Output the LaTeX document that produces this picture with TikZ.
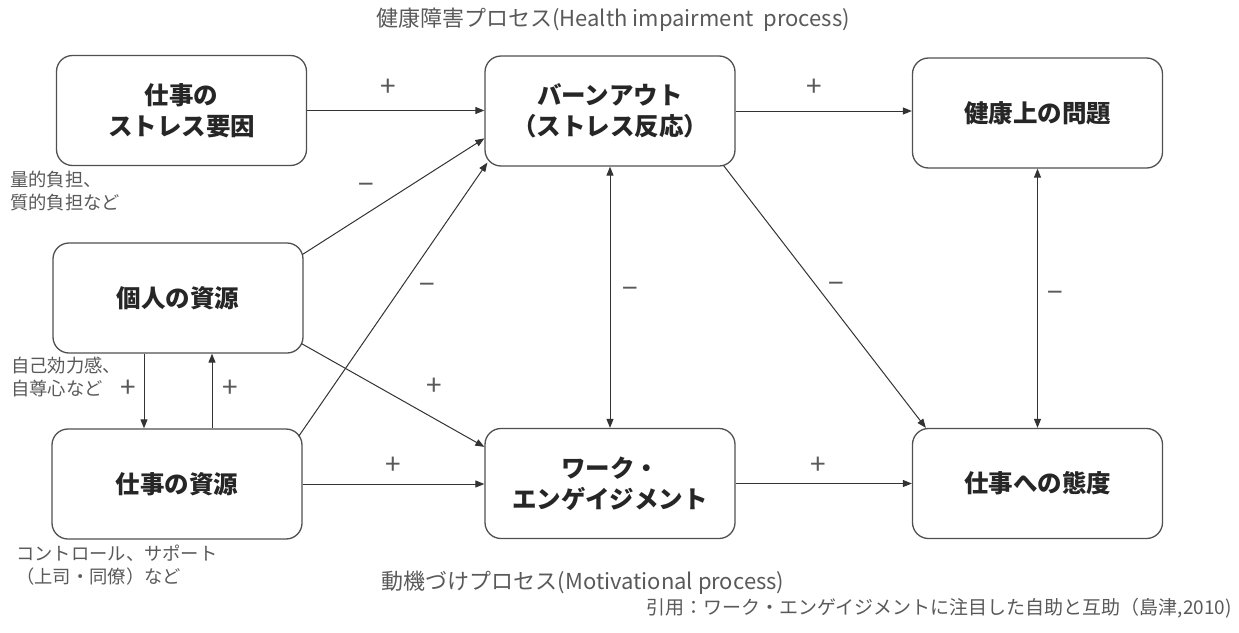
\documentclass[tikz,border=0pt]{standalone}
\usepackage{fontspec}
\setmainfont{Noto Sans CJK JP}
\usetikzlibrary{arrows.meta,calc}
\definecolor{boxline}{HTML}{505050}
\definecolor{arrline}{HTML}{333333}
\definecolor{textdark}{HTML}{262626}
\definecolor{notegray}{HTML}{595959}
\definecolor{sgngray}{HTML}{595959}
\begin{document}
\begin{tikzpicture}[x=1pt,y=-1pt,
  box/.style={draw=boxline, line width=1.3pt, rounded corners=16pt, minimum width=250pt, minimum height=110pt, align=center, inner sep=0pt, font=\fontsize{24.5}{31}\selectfont\bfseries, text=textdark},
  tip/.tip={Triangle[length=9pt,width=7pt]},
  arr/.style={draw=arrline, line width=1pt, -tip},
  darr/.style={draw=arrline, line width=1pt, tip-tip},
  sgn/.style={text=sgngray, font=\fontsize{28}{28}\selectfont, inner sep=0pt},
  note/.style={text=notegray, font=\fontsize{18.3}{22.5}\selectfont, align=left, anchor=north west, inner sep=0pt},
  ttl/.style={text=notegray, font=\fontsize{22}{22}\selectfont, inner sep=0pt}
]
\useasboundingbox (0,0) rectangle (1239,632);

% boxes
\node[box] (A) at (181.5,110.5) {仕事の\\ストレス要因};
\node[box] (B) at (178,298) {個人の資源};
\node[box] (C) at (177,484) {仕事の資源};
\node[box] (D) at (610,111) {バーンアウト\\（ストレス反応）};
\node[box] (E) at (610,483.5) {ワーク・\\エンゲイジメント};
\node[box] (F) at (1037.5,113) {健康上の問題};
\node[box] (G) at (1037.5,483.5) {仕事への態度};

% connectors
\draw[arr] (A.east) -- (A.east -| D.west);
\draw[arr] (D.east) -- (D.east -| F.west);
\draw[arr] ($(B.north east)+(-1,12)$) -- ($(D.north west)+(0,83)$);
\draw[arr] ($(C.north east)+(-4,8)$) -- ($(D.south west)+(3,-4)$);
\draw[arr] ($(B.south east)+(-2,-10)$) -- ($(E.north west)+(0,19)$);
\draw[arr] (C.east) -- (C.east -| E.west);
\draw[arr] (E.east) -- (E.east -| G.west);
\draw[darr] (D.south) -- (D.south |- E.north);
\draw[darr] (F.south) -- (F.south |- G.north);
\draw[arr] ($(D.south east)+(-12,-1)$) -- ($(G.north west)+(14,0)$);
\draw[arr] ([xshift=-34pt]B.south) -- ([xshift=-34pt]B.south |- C.north);
\draw[arr] ([xshift=34pt]B.south |- C.north) -- ([xshift=34pt]B.south);

% signs
\node[sgn] (s1) at (388,88) {+};
\node[sgn] (s2) at (814,88) {+};
\node[sgn] (s3) at (366,189) {−};
\node[sgn] (s4) at (427,289) {−};
\node[sgn] (s5) at (434,387) {+};
\node[sgn] (s6) at (393,466) {+};
\node[sgn] (s7) at (818,466) {+};
\node[sgn] (s8) at (630,293) {−};
\node[sgn] (s9) at (836,288) {−};
\node[sgn] (s10) at (1055,297) {−};
\node[sgn] (s11) at (128,389) {+};
\node[sgn] (s12) at (230,389) {+};

% notes
\node[note] (n1) at (10,171) {量的負担、\\質的負担など};
\node[note] (n2) at (11,357) {自己効力感、\\自尊心など};
\node[note] (n3) at (16,545) {コントロール、サポート\\（上司・同僚）など};

% titles
\node[ttl] (t1) at (613,20) {健康障害プロセス(Health impairment\ \ process)};
\node[ttl] (t2) at (583,583) {動機づけプロセス(Motivational process)};
\node[ttl, font=\fontsize{19}{19}\selectfont, anchor=east] (t3) at (1232,608) {引用：ワーク・エンゲイジメントに注目した自助と互助（島津,2010)};
\end{tikzpicture}
\end{document}
